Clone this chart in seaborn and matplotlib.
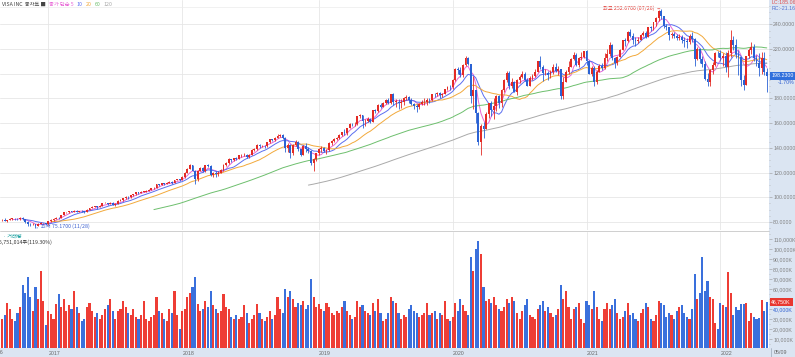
import numpy as np
import pandas as pd
import matplotlib.pyplot as plt
import seaborn as sns

# weekly bars, 2016-08-29 .. 2022-05-09
dates = pd.date_range("2016-08-29", "2022-05-09", freq="W-MON")
first_open = 81.5

close = [
    # 2016
    82.0, 81.0, 81.6, 82.5, 82.7, 82.4, 82.2, 83.2, 82.5, 79.8, 78.5, 78.0, 78.4, 76.6, 78.3, 78.8, 79.0, 78.0,
    # 2017
    80.8, 81.7, 82.7, 83.6, 83.0, 85.7, 87.9, 88.1, 88.7, 88.5, 89.3, 88.4, 88.9, 88.6, 88.5, 90.0, 91.2, 92.4,
    92.6, 92.2, 93.3, 95.2, 95.6, 94.8, 95.7, 93.8, 94.5, 97.2, 97.8, 99.4, 100.2, 100.0, 101.8, 102.5, 104.0,
    103.6, 104.5, 104.6, 105.2, 106.0, 107.4, 107.5, 110.5, 110.3, 111.3, 110.9, 111.5, 112.3, 111.5, 114.0,
    114.6, 114.0,
    # 2018
    116.8, 120.0, 122.8, 126.0, 121.5, 114.5, 121.5, 123.4, 121.2, 126.0, 125.6, 117.7, 119.6, 118.8, 120.0,
    122.1, 126.3, 127.5, 131.2, 130.0, 131.8, 131.0, 134.0, 134.2, 134.6, 132.5, 134.4, 138.5, 139.0, 142.4,
    141.5, 141.9, 141.5, 144.7, 146.9, 146.0, 148.3, 150.0, 150.1, 148.3, 140.3, 142.0, 136.2, 142.4, 145.0,
    139.3, 134.5, 141.5, 139.3, 137.7, 127.5, 131.0, 135.5,
    # 2019
    139.0, 140.0, 137.5, 138.0, 143.8, 145.7, 147.0, 148.0, 150.5, 152.7, 152.0, 156.2, 159.2, 159.0, 159.5,
    165.5, 167.0, 161.5, 161.7, 163.6, 161.2, 170.6, 170.2, 174.8, 173.5, 176.3, 179.0, 176.0, 183.6, 177.4,
    177.5, 176.3, 177.2, 180.8, 181.0, 178.7, 175.6, 173.6, 173.0, 175.9, 177.0, 177.0, 178.7, 178.5, 183.5,
    183.4, 184.5, 182.5, 184.0, 187.5, 189.4, 189.0,
    # 2020
    194.9, 204.2, 203.0, 199.0, 207.5, 213.0, 208.0, 182.0, 187.0, 168.0, 145.0, 158.0, 155.0, 167.5, 176.2,
    170.4, 174.0, 182.0, 176.0, 187.0, 195.2, 200.5, 190.0, 193.3, 185.6, 195.0, 197.6, 200.0, 195.0, 190.4,
    196.5, 198.0, 201.7, 210.0, 205.6, 200.4, 200.4, 198.8, 201.6, 205.5, 202.0, 204.0, 181.7, 193.7, 201.6,
    205.7, 212.0, 215.2, 207.0, 213.0, 214.0, 218.7,
    # 2021
    210.0, 200.0, 204.5, 193.2, 201.7, 206.5, 204.3, 212.4, 216.0, 223.0, 212.5, 209.0, 214.0, 219.5, 227.0,
    226.5, 233.6, 231.0, 227.7, 226.2, 227.5, 231.8, 233.4, 229.5, 237.5, 236.8, 241.7, 245.0, 250.5, 246.4,
    239.0, 237.5, 231.5, 232.0, 231.0, 229.0, 230.0, 227.0, 226.5, 225.5, 231.0, 228.0, 211.8, 220.0, 212.0,
    208.0, 196.0, 193.4, 203.0, 207.0, 216.8, 216.7,
    # 2022
    213.0, 214.5, 205.5, 217.0, 227.0, 223.0, 216.0, 213.5, 195.0, 191.0, 214.5, 219.5, 221.8, 213.0, 208.5,
    205.0, 213.1, 201.66, 198.23,
]

high = [
    82.5, 83.0, 82.0, 83.0, 83.2, 83.3, 83.2, 83.8, 84.0, 82.6, 81.0, 79.5, 79.0, 78.6, 78.8, 80.0, 79.5, 79.3,
    81.2, 82.2, 83.0, 84.2, 84.3, 86.0, 88.2, 88.5, 89.0, 89.2, 89.6, 89.4, 89.3, 89.5, 89.0, 90.3, 91.5, 92.7,
    93.0, 93.0, 93.5, 95.5, 96.4, 95.7, 96.1, 96.2, 95.0, 97.5, 98.3, 99.7, 101.0, 101.0, 102.2, 103.0, 104.3,
    104.3, 104.9, 105.2, 105.7, 106.4, 107.8, 108.1, 110.8, 111.0, 111.8, 111.6, 112.0, 112.8, 113.0, 114.4,
    115.0, 115.0,
    117.2, 120.4, 123.5, 126.9, 126.5, 122.5, 122.0, 124.5, 124.8, 126.2, 126.7, 126.0, 120.5, 121.0, 121.2,
    123.0, 127.0, 128.3, 131.6, 131.4, 132.2, 132.5, 134.5, 135.4, 135.5, 135.0, 134.8, 138.9, 139.8, 143.2,
    142.8, 142.5, 142.3, 145.0, 147.2, 147.3, 148.6, 151.5, 151.6, 151.2, 148.5, 143.7, 143.2, 142.8, 146.3,
    145.7, 139.5, 142.0, 144.2, 140.8, 137.9, 131.5, 136.0,
    140.0, 141.5, 141.0, 138.8, 144.5, 146.3, 147.8, 148.9, 151.0, 153.2, 155.0, 156.5, 159.8, 160.5, 161.0,
    166.0, 167.5, 166.3, 163.0, 164.8, 164.5, 171.0, 171.5, 175.2, 176.0, 176.8, 179.6, 180.0, 184.0, 184.1,
    179.6, 179.4, 179.4, 181.5, 182.5, 182.4, 180.2, 176.5, 175.8, 176.5, 178.5, 180.2, 180.1, 180.5, 184.0,
    184.5, 185.0, 185.0, 184.8, 188.0, 189.9, 190.8,
    195.6, 205.0, 205.5, 205.5, 208.0, 214.2, 213.4, 207.0, 198.0, 186.0, 169.0, 159.5, 161.0, 168.8, 176.5,
    177.8, 180.0, 183.2, 182.5, 187.5, 195.5, 202.0, 202.5, 196.5, 194.4, 195.8, 199.0, 202.5, 201.5, 196.8,
    198.0, 199.5, 203.5, 210.7, 214.5, 207.5, 204.0, 202.3, 203.0, 207.6, 208.5, 206.0, 203.5, 197.5, 203.3,
    210.7, 213.0, 217.6, 216.8, 214.0, 218.0, 218.5,
    219.0, 211.0, 206.5, 206.0, 203.0, 208.0, 208.5, 217.0, 220.0, 226.0, 224.5, 213.5, 214.5, 220.0, 227.5,
    229.0, 235.0, 236.2, 233.0, 229.5, 230.0, 232.5, 235.0, 234.5, 238.0, 238.5, 242.0, 245.6, 252.0, 252.67,
    246.5, 240.5, 238.0, 233.8, 233.5, 232.5, 232.0, 231.8, 229.5, 229.0, 232.5, 234.0, 229.0, 222.0, 221.0,
    214.5, 210.5, 200.5, 204.0, 209.5, 218.0, 218.5,
    219.5, 216.8, 218.0, 219.0, 235.8, 230.5, 228.0, 219.0, 213.0, 199.0, 214.8, 220.5, 226.0, 224.0, 215.5,
    217.0, 218.0, 217.8, 204.5,
]

low = [
    80.8, 80.6, 80.2, 81.4, 81.8, 81.8, 81.5, 81.9, 81.7, 79.5, 77.0, 76.5, 77.6, 75.17, 76.5, 78.0, 78.4, 77.6,
    77.8, 80.3, 81.0, 82.2, 82.4, 83.0, 85.5, 87.1, 87.6, 87.8, 88.0, 87.9, 87.8, 88.0, 87.5, 88.2, 89.6, 91.0,
    91.8, 90.5, 92.0, 93.2, 95.0, 94.0, 94.2, 93.5, 93.0, 94.2, 96.7, 97.0, 99.0, 99.0, 99.5, 101.2, 102.2,
    102.7, 103.3, 103.9, 104.3, 105.0, 105.6, 106.5, 107.2, 109.5, 110.0, 110.2, 110.5, 111.2, 110.9, 111.3,
    113.8, 113.5,
    113.8, 116.0, 119.8, 122.6, 121.0, 111.0, 113.5, 120.9, 120.1, 120.5, 124.8, 117.2, 116.8, 116.4, 117.5,
    119.5, 121.0, 125.7, 127.3, 128.5, 129.5, 130.0, 130.8, 133.0, 133.4, 131.6, 131.8, 134.0, 137.3, 138.6,
    140.2, 140.4, 139.8, 141.0, 144.1, 145.3, 145.2, 147.8, 148.6, 147.1, 137.0, 136.7, 132.2, 134.5, 141.2,
    137.8, 133.1, 134.0, 136.6, 135.5, 126.3, 121.6, 129.4,
    134.5, 136.5, 136.4, 135.2, 137.6, 142.3, 144.8, 146.3, 147.0, 149.9, 150.5, 150.5, 155.8, 157.5, 157.5,
    158.8, 164.0, 156.5, 158.0, 160.6, 160.2, 161.0, 168.0, 169.4, 172.5, 172.9, 175.6, 175.3, 175.8, 174.5,
    173.0, 171.2, 172.0, 174.9, 178.6, 176.5, 175.0, 171.7, 168.8, 171.1, 174.5, 174.4, 174.5, 176.6, 178.0,
    181.5, 182.3, 180.0, 181.6, 183.5, 187.0, 186.8,
    187.9, 194.0, 199.8, 197.6, 197.4, 206.5, 206.8, 176.4, 171.6, 160.0, 142.3, 133.9, 148.0, 156.6, 164.6,
    165.8, 163.8, 170.0, 172.0, 172.8, 185.5, 193.2, 188.0, 188.5, 185.0, 183.0, 192.4, 196.5, 193.8, 189.8,
    191.0, 194.9, 197.6, 201.5, 204.0, 194.3, 199.0, 194.9, 196.8, 200.0, 201.2, 199.1, 179.2, 179.2, 193.0,
    200.1, 205.3, 211.3, 206.1, 205.4, 211.0, 212.5,
    207.5, 199.5, 198.0, 190.1, 192.0, 201.3, 203.0, 203.5, 210.5, 214.5, 211.0, 204.5, 207.0, 214.0, 219.2,
    222.8, 226.0, 229.5, 224.0, 222.5, 225.3, 227.6, 230.5, 228.7, 229.8, 234.6, 235.8, 238.8, 243.0, 244.5,
    237.3, 235.5, 227.7, 229.2, 229.0, 227.5, 227.0, 224.8, 222.0, 221.0, 224.0, 226.0, 206.5, 211.0, 208.5,
    205.5, 194.8, 190.1, 190.2, 199.5, 206.0, 214.0,
    210.5, 206.5, 201.5, 197.1, 214.0, 219.5, 212.5, 199.0, 190.5, 186.7, 192.0, 212.5, 216.0, 210.5, 206.0,
    198.0, 199.5, 199.0, 185.06,
]

# weekly volume, millions of shares
volume = [
    30, 34, 46, 40, 30, 28, 36, 42, 64, 56, 72, 52, 38, 62, 50, 78, 48, 24,
    38, 35, 30, 45, 55, 42, 50, 38, 44, 40, 58, 42, 36, 28, 30, 42, 46, 38, 32, 36, 30, 34, 40, 44, 50, 38,
    30, 38, 40, 48, 42, 36, 34, 40, 32, 30, 34, 48, 30, 28, 32, 34, 52, 38, 36, 30, 28, 40, 36, 58, 34, 20,
    38, 40, 52, 56, 62, 72, 45, 38, 40, 48, 42, 58, 44, 40, 36, 38, 55, 42, 40, 32, 30, 34, 30, 32, 44, 36,
    26, 30, 34, 45, 36, 30, 28, 32, 38, 30, 34, 52, 40, 36, 60, 52, 58, 50, 42, 46, 44, 48, 40, 44, 70, 52, 42,
    45, 40, 38, 46, 42, 36, 34, 38, 36, 42, 48, 38, 34, 30, 32, 48, 42, 44, 38, 36, 34, 46, 38, 50, 36, 28,
    30, 36, 52, 48, 46, 36, 30, 34, 32, 40, 44, 38, 36, 32, 34, 36, 46, 34, 36, 38, 30, 36, 34, 48, 30, 28,
    32, 46, 38, 50, 44, 38, 34, 92, 78, 100, 108, 95, 62, 48, 50, 46, 52, 44, 40, 38, 42, 50, 46, 52, 48, 36,
    30, 38, 44, 50, 34, 32, 30, 40, 44, 48, 38, 42, 36, 32, 34, 40, 64, 50, 58, 42, 30, 40, 42, 46, 30, 26,
    48, 44, 40, 58, 42, 30, 28, 40, 46, 40, 44, 50, 36, 30, 32, 38, 46, 34, 36, 30, 28, 36, 40, 46, 42, 30,
    28, 34, 48, 46, 44, 32, 36, 34, 30, 38, 42, 44, 36, 32, 30, 40, 75, 50, 56, 92, 58, 68, 52, 50, 26, 20,
    46, 44, 42, 77, 56, 34, 42, 39, 45, 45, 46, 28, 36, 32, 30, 31, 49, 38, 46.75,
]

ma_windows = [5, 10, 20, 60, 120]
ma_colors = ['#e866d6', '#5b6ef0', '#f2a93b', '#6dbf6d', '#a9a9a9']
years = ['2017', '2018', '2019', '2020', '2021', '2022']
price_ticks = list(range(80, 260, 20))
volume_ticks = list(range(10, 111, 10))

UP = '#e32b25'
DOWN = '#2a62d4'
UP_VOL = '#ee3d35'
DOWN_VOL = '#3a70dc'
GRID = '#e6e6e6'
PANEL = '#dbe5f2'
KFONT = ['Noto Sans CJK KR', 'DejaVu Sans']
NUMFONT = ['Liberation Sans', 'DejaVu Sans']
FS = 3.8     # small HTS-style text

df = pd.DataFrame({'date': dates, 'close': close, 'high': high, 'low': low, 'volume': volume})
df['open'] = df['close'].shift(1).fillna(first_open)
df['i'] = np.arange(len(df))
df['up'] = df['close'] >= df['open']
for w in ma_windows:
    df[f'ma{w}'] = df['close'].rolling(w).mean()

sns.set_theme(style="white")
plt.rcParams['font.family'] = NUMFONT

W, H = 795, 357
fig = plt.figure(figsize=(W / 100, H / 100), dpi=100)
fig.patch.set_facecolor('white')

# light blue frame on the right and at the bottom
fig.add_artist(plt.Rectangle((769 / W, 0), 1, 1, transform=fig.transFigure, color=PANEL, zorder=0))
fig.add_artist(plt.Rectangle((0, 0), 1, 9 / H, transform=fig.transFigure, color=PANEL, zorder=0))


def px_to_i(px):
    return (px - 2.0) / 2.575


x0, x1 = px_to_i(0), px_to_i(769)
ax = fig.add_axes([0, 1 - 230 / H, 769 / W, 230 / H])
axv = fig.add_axes([0, 1 - 348 / H, 769 / W, (348 - 232) / H])

year_idx = [int(np.argmax(df['date'].dt.year.values == int(y))) for y in years]
last = df.iloc[-1]
prev = df.iloc[-2]

# ---- price panel ----
colors = np.where(df['up'], UP, DOWN)
lo = np.minimum(df['low'], np.minimum(df['open'], df['close']))
hi = np.maximum(df['high'], np.maximum(df['open'], df['close']))
ax.vlines(df['i'], lo, hi, colors=colors, lw=0.6, zorder=3)
body_lo = np.minimum(df['open'], df['close'])
body_h = np.maximum(np.abs(df['close'] - df['open']), 0.35)
ax.bar(df['i'], body_h, bottom=body_lo, width=0.72, color=colors, lw=0, zorder=4)

for w, c in zip(ma_windows, ma_colors):
    sns.lineplot(data=df, x='i', y=f'ma{w}', ax=ax, color=c, lw=0.7, zorder=2)

ax.set_xlim(x0, x1)
ax.set_ylim(80 - 8 * 0.8097, 80 + 222 * 0.8097)
ax.yaxis.tick_right()
ax.set_yticks(price_ticks)
ax.set_yticks(range(75, 256, 5), minor=True)
# the label hidden under the current-price box is left blank
ax.set_yticklabels(['' if abs(v - last['close']) < 6 else f'{v:.4f}' for v in price_ticks])
ax.tick_params(axis='y', which='major', labelsize=FS, labelcolor='#808080', length=2, width=0.4,
               color='#999999', pad=1, right=True)
ax.tick_params(axis='y', which='minor', length=1, width=0.4, color='#aaaaaa', right=True)
ax.set_xticks([])
ax.set_xlabel('')
ax.set_ylabel('')
for v in price_ticks:
    ax.axhline(v, color=GRID, lw=0.6, zorder=0)
for yi in year_idx:
    ax.axvline(yi, color=GRID, lw=0.6, zorder=0)
for s in ax.spines.values():
    s.set_visible(False)

# high / low notes
imax = int(np.argmax(df['high']))
imin = int(np.argmin(df['low']))
ax.annotate(f"최고 {df['high'][imax]:.4f} ({df['date'][imax]:%m/%d})", xy=(imax - 0.5, df['high'][imax]),
            xytext=(-4, 0), textcoords='offset points', ha='right', va='center', fontsize=FS,
            color='#e0352f', arrowprops=dict(arrowstyle='-', color='#e0352f', lw=0.5), family=KFONT)
ax.annotate(f"최저 {df['low'][imin]:.4f} ({df['date'][imin]:%m/%d})", xy=(imin + 0.5, df['low'][imin]),
            xytext=(3, 1.5), textcoords='offset points', ha='left', va='center', fontsize=FS,
            color='#3a5fd0', arrowprops=dict(arrowstyle='-', color='#3a5fd0', lw=0.5), family=KFONT)

# current price box
pct = (last['close'] / prev['close'] - 1) * 100
ax.text(1.003, last['close'], f"{last['close']:.4f}", transform=ax.get_yaxis_transform(),
        ha='left', va='center', fontsize=FS, color='white',
        bbox=dict(boxstyle='square,pad=0.3', fc='#2f6fdc', ec='none'), clip_on=False, zorder=10)
ax.text(1.012, last['close'] - 5.4, f"{pct:.2f}%", transform=ax.get_yaxis_transform(),
        ha='left', va='center', fontsize=FS, color='#2f5fd0', clip_on=False)

# ---- volume panel ----
vcolors = np.where(df['up'], UP_VOL, DOWN_VOL)
axv.bar(df['i'], df['volume'], width=0.82, color=vcolors, lw=0)
axv.set_xlim(x0, x1)
axv.set_ylim(1, 117)
axv.yaxis.tick_right()
vol_last = df['volume'].iloc[-1]
axv.set_yticks(volume_ticks)
axv.set_yticks(range(5, 116, 5), minor=True)
axv.set_yticklabels(['' if abs(v - vol_last) < 4 else f'{v * 1000:,}K' for v in volume_ticks])
axv.tick_params(axis='y', which='major', labelsize=FS, labelcolor='#808080', length=2, width=0.4,
                color='#999999', pad=1, right=True)
axv.tick_params(axis='y', which='minor', length=1, width=0.4, color='#aaaaaa', right=True)
# the 40,000K line carries the blue volume-average colour in the reference
axv.get_yticklabels()[3].set_color('#2f5fd0')
axv.set_xticks(year_idx)
axv.set_xticklabels(years, ha='left')
axv.tick_params(axis='x', labelsize=FS, labelcolor='#666666', length=0, pad=2.2)
for yi in year_idx:
    axv.axvline(yi, color=GRID, lw=0.6, zorder=0)
for s in axv.spines.values():
    s.set_visible(False)
axv.set_xlabel('')
axv.set_ylabel('')

axv.text(1.003, vol_last, f"{vol_last * 1000:,.0f}K", transform=axv.get_yaxis_transform(),
         ha='left', va='center', fontsize=FS, color='white',
         bbox=dict(boxstyle='square,pad=0.3', fc='#e8372f', ec='none'), clip_on=False, zorder=10)

# separators
fig.add_artist(plt.Line2D([0, 769 / W], [1 - 231 / H] * 2, color='#c8c8c8', lw=0.6))
fig.add_artist(plt.Line2D([0, 769 / W], [1 - 7 / H] * 2, color='#ececec', lw=0.5))

# header legend, pieces chained one after another
hy = 1 - 4 / H
prev_t = fig.text(2 / W, hy, "VISA INC  봉차트 ■", fontsize=FS, color='#444444', va='center', family=KFONT)
for txt, c in [("종가 단순 5", '#e866d6'), ("10", '#5b6ef0'), ("20", '#f2a93b'),
               ("60", '#6dbf6d'), ("120", '#a9a9a9')]:
    prev_t = fig.add_artist(plt.Annotation(txt, xy=(1, 0.5), xycoords=prev_t, xytext=(2.2, 0),
                                           textcoords='offset points', va='center', ha='left',
                                           fontsize=FS, color=c, family=KFONT))

fig.text(772 / W, 1 - 3 / H, "LC:185.06", fontsize=FS, color='#e05050', va='center')
fig.text(772 / W, 1 - 8.5 / H, "RC:-21.16", fontsize=FS, color='#5070d0', va='center')

# volume panel labels
fig.text(3 / W, 1 - 236 / H, "· 거래량", fontsize=FS, color='#1aa0a0', va='center', family=KFONT)
fig.text(-3 / W, 1 - 242.5 / H, "46,751,014주(119.30%)", fontsize=FS, color='#333333', va='center',
         family=KFONT)

# date strip
fig.text(-8 / W, 4.5 / H, "2016", fontsize=FS, color='#666666', va='center')
fig.text(774 / W, 4.5 / H, "05/09", fontsize=FS, color='#666666', va='center')
fig.add_artist(plt.Line2D([771 / W] * 2, [0, 9 / H], color='#9aa8b8', lw=0.5))

fig.savefig('out.png', dpi=100)
